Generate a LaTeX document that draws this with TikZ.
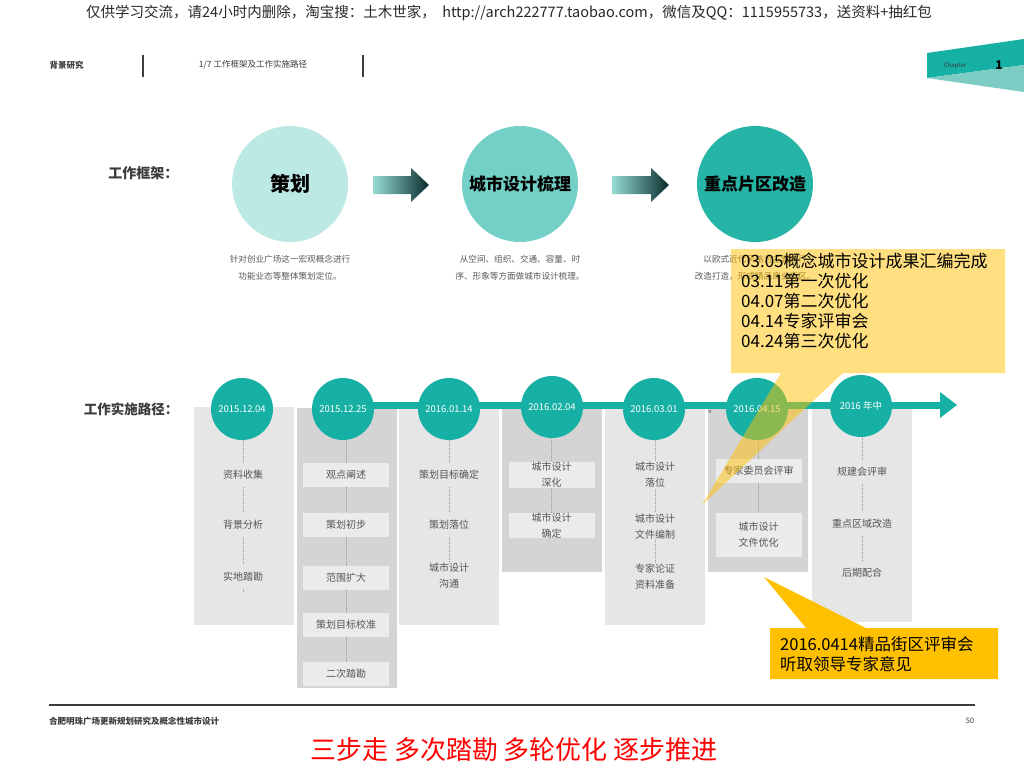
\documentclass[tikz,border=0pt]{standalone}
\usepackage{fontspec}
\setmainfont{Noto Sans CJK SC}
\usetikzlibrary{calc}
\definecolor{fcA}{RGB}{189,233,228}
\definecolor{fcB}{RGB}{114,208,198}
\definecolor{fcC}{RGB}{38,180,166}
\definecolor{tealT}{RGB}{22,176,164}
\definecolor{panL}{RGB}{230,230,230}
\definecolor{panD}{RGB}{212,212,212}
\definecolor{boxG}{RGB}{235,235,235}
\definecolor{txtG}{RGB}{85,85,85}
\definecolor{capG}{RGB}{90,90,90}
\definecolor{dotG}{RGB}{150,150,150}
\definecolor{headG}{RGB}{60,60,60}
\definecolor{arrL}{RGB}{150,220,212}
\definecolor{arrR}{RGB}{8,45,45}
\definecolor{chapD}{RGB}{22,176,164}
\definecolor{chapL}{RGB}{125,204,196}
\definecolor{goldY}{RGB}{255,192,0}
\definecolor{wmG}{RGB}{40,40,40}
\begin{document}
\begin{tikzpicture}[x=1pt,y=-1pt,
  fcirc/.style={circle, inner sep=0pt, minimum size=116pt, font=\fontsize{17}{20}\selectfont\bfseries, text=black},
  fcap/.style={align=center, font=\fontsize{8.6}{17}\selectfont, text=capG},
  dcirc/.style={circle, fill=tealT, inner sep=0pt, minimum size=62pt, text=white, font=\fontsize{9.5}{11}\selectfont},
  itm/.style={align=center, font=\fontsize{10}{16}\selectfont, text=txtG, inner sep=1pt, minimum height=24pt, minimum width=86pt},
  itmbox/.style={itm, fill=boxG},
  dotl/.style={draw=dotG, line width=0.9pt, dash pattern=on 0.9pt off 1.1pt},
  hdr/.style={font=\fontsize{8.5}{10}\selectfont, text=headG},
  sect/.style={font=\fontsize{14}{16}\selectfont\bfseries, text=headG, anchor=east},
  calltxt/.style={font=\fontsize{17}{20}\selectfont, text=black, anchor=west, inner sep=0pt}
]
\useasboundingbox (0,0) rectangle (1024,768);
\fill[white] (0,0) rectangle (1024,768);

% watermark
\node[font=\fontsize{14.5}{16}\selectfont, text=wmG] (wm) at (509,13) {仅供学习交流，请24小时内删除，淘宝搜：土木世家，\ \ http://arch222777.taobao.com，微信及QQ：1115955733，送资料+抽红包};

% header
\node[hdr, font=\fontsize{8.5}{10}\selectfont\bfseries, anchor=west] (h1) at (46,65) {背景研究};
\draw[headG, line width=1.2pt] (143,55) -- (143,77);
\node[hdr] (h2) at (253,65) {1/7 工作框架及工作实施路径};
\draw[headG, line width=1.2pt] (363,55) -- (363,77);

% chapter tab
\fill[chapD] (927,53) -- (1024,39) -- (1024,65) -- (927,78) -- cycle;
\fill[chapL] (927,78) -- (1024,65) -- (1024,92) -- cycle;
\node[font=\fontsize{6}{7}\selectfont, text=headG] (chap) at (955,66) {Chapter};
\node[font=\fontsize{12}{14}\selectfont\bfseries, text=black] (chapn) at (999,65) {1};

% work framework
\node[sect] (s1) at (182,173) {工作框架：};
\node[fcirc, fill=fcA, font=\fontsize{20}{24}\selectfont\bfseries] (f1) at (290,184) {策划};
\node[fcirc, fill=fcB] (f2) at (520,184) {城市设计梳理};
\node[fcirc, fill=fcC] (f3) at (755,184) {重点片区改造};
\shade[left color=arrL, right color=arrR] (373,176) -- (411,176) -- (411,168) -- (429,185) -- (411,202) -- (411,194) -- (373,194) -- cycle;
\shade[left color=arrL, right color=arrR] (612,176) -- (651,176) -- (651,168) -- (669,185) -- (651,202) -- (651,194) -- (612,194) -- cycle;
\node[fcap] (cap1) at (290,267.5) {针对创业广场这一宏观概念进行\\功能业态等整体策划定位。};
\node[fcap] (cap2) at (520,267.5) {从空间、组织、交通、容量、时\\序、形象等方面做城市设计梳理。};
\node[fcap] (cap3) at (755,267.5) {以欧式近代风格为主题进行\\改造打造，形成精品商业街区。};

% implementation path
\node[sect, font=\fontsize{13.5}{16}\selectfont\bfseries] (s2) at (182,409) {工作实施路径：};

% panels
\fill[panL] (194,407) rectangle (294,625);
\fill[panD] (297,408) rectangle (397,688);
\fill[panL] (399,408) rectangle (499,625);
\fill[panD] (502,408) rectangle (602,572);
\fill[panL] (605,408) rectangle (705,625);
\fill[panD] (708,408) rectangle (808,572);
\fill[panL] (812,408) rectangle (912,622);

% timeline bar
\fill[tealT] (344,401.5) rectangle (941,409);
\fill[tealT] (940,392) -- (957,405) -- (940,418) -- cycle;
\coordinate (tip) at (957,405);

% date circles
\node[dcirc] (d1) at (242,409) {2015.12.04};
\node[dcirc] (d2) at (343,409) {2015.12.25};
\node[dcirc] (d3) at (449,409) {2016.01.14};
\node[dcirc] (d4) at (552,407) {2016.02.04};
\node[dcirc] (d5) at (654,409) {2016.03.01};
\node[dcirc] (d6) at (757,409) {2016.04.15};
\node[dcirc] (d7) at (861,406) {2016 年中};
\node[font=\fontsize{6}{7}\selectfont, text=headG] (vmark) at (710,412) {v};

% column 1
\node[itm] (a1) at (243,475) {资料收集};
\node[itm] (a2) at (243,525) {背景分析};
\node[itm] (a3) at (243,577) {实地踏勘};
\coordinate (a4) at (243,592);
\draw[dotl] (d1.south -| a1) -- (a1.north);
\draw[dotl] (a1.south) -- (a2.north);
\draw[dotl] (a2.south) -- (a3.north);
\draw[dotl] (a3.south) -- (a4);

% column 2
\node[itmbox] (b1) at (346,475) {观点阐述};
\node[itmbox] (b2) at (346,525) {策划初步};
\node[itmbox] (b3) at (346,577.5) {范围扩大};
\node[itmbox] (b4) at (346,625) {策划目标校准};
\node[itmbox] (b5) at (346,673.5) {二次踏勘};
\draw[dotl] (d2.south -| b1) -- (b1.north);
\draw[dotl] (b1.south) -- (b2.north);
\draw[dotl] (b2.south) -- (b3.north);
\draw[dotl] (b3.south) -- (b4.north);
\draw[dotl] (b4.south) -- (b5.north);

% column 3
\node[itm] (c1) at (449,475) {策划目标确定};
\node[itm] (c2) at (449,525) {策划落位};
\node[itm] (c3) at (449,576) {城市设计\\沟通};
\draw[dotl] (d3.south -| c1) -- (c1.north);
\draw[dotl] (c1.south) -- (c2.north);
\draw[dotl] (c2.south) -- (c3.north);

% column 4
\node[itmbox, inner sep=0pt] (e1) at (551.5,475) {城市设计\\深化};
\node[itmbox, inner sep=0pt] (e2) at (551.5,525.5) {城市设计\\确定};
\draw[dotl] (d4.south -| e1) -- (e1.north);
\draw[dotl] (e1.south) -- (e2.north);

% column 5
\node[itm] (g1) at (655,475) {城市设计\\落位};
\node[itm] (g2) at (655,526.5) {城市设计\\文件编制};
\node[itm] (g3) at (655,576.5) {专家论证\\资料准备};
\draw[dotl] (d5.south -| g1) -- (g1.north);
\draw[dotl] (g1.south) -- (g2.north);
\draw[dotl] (g2.south) -- (g3.north);

% column 6
\node[itmbox] (k1) at (758.5,471) {专家委员会评审};
\node[itmbox, minimum height=44pt] (k2) at (758.5,535) {城市设计\\文件优化};
\draw[dotl] (d6.south -| k1) -- (k1.north);
\draw[dotl] (k1.south) -- (k2.north);

% column 7
\node[itm] (m1) at (862,472) {规建会评审};
\node[itm] (m2) at (862,524) {重点区域改造};
\node[itm] (m3) at (862,573) {后期配合};
\draw[dotl] (d7.south -| m1) -- (m1.north);
\draw[dotl] (m1.south) -- (m2.north);
\draw[dotl] (m2.south) -- (m3.north);

% callout 1 (semi-transparent)
\fill[goldY, fill opacity=0.5] (731,249) -- (1005,249) -- (1005,373) -- (843,373) -- (702,505) -- (781,373) -- (731,373) -- cycle;
\node[calltxt] (q1) at (741,261) {03.05概念城市设计成果汇编完成};
\node[calltxt] (q2) at (741,281) {03.11第一次优化};
\node[calltxt] (q3) at (741,301) {04.07第二次优化};
\node[calltxt] (q4) at (741,321) {04.14专家评审会};
\node[calltxt] (q5) at (741,341) {04.24第三次优化};

% callout 2
\fill[goldY] (770,628) -- (806,628) -- (764,577) -- (866,628) -- (998,628) -- (998,679) -- (770,679) -- cycle;
\node[calltxt, font=\fontsize{16.5}{20}\selectfont] (r1) at (780,644) {2016.0414精品街区评审会};
\node[calltxt, font=\fontsize{16.5}{20}\selectfont] (r2) at (780,664) {听取领导专家意见};

% footer
\draw[headG, line width=1.2pt] (49,705) -- (975,705);
\node[hdr, font=\fontsize{8.5}{10}\selectfont\bfseries, anchor=west, inner sep=0pt] (ft) at (49,721) {合肥明珠广场更新规划研究及概念性城市设计};
\node[hdr, font=\fontsize{7.5}{9}\selectfont] (pg) at (970,721) {50};
\node[font=\fontsize{26}{30}\selectfont, text=red] (slogan) at (514,750) {三步走 多次踏勘 多轮优化 逐步推进};
\end{tikzpicture}
\end{document}
